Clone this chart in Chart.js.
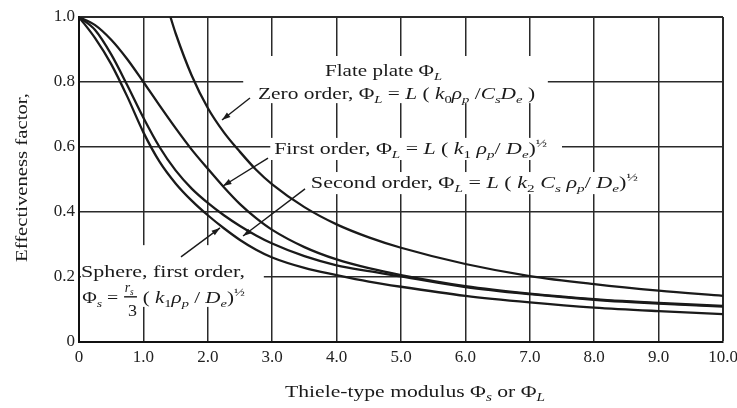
<!DOCTYPE html>
<html>
<head>
<meta charset="utf-8">
<script src="https://cdn.jsdelivr.net/npm/chart.js@4.4.1/dist/chart.umd.min.js"></script>
<style>
  html, body { margin: 0; padding: 0; background: #fff; }
  canvas { display: block; }
</style>
</head>
<body>
<canvas id="effChart" width="737" height="408"></canvas>
<script>
// Thiele modulus values shared by the three lower curves
let phi = [0, 0.25, 0.5, 0.75, 1.0, 1.25, 1.5, 1.75, 2.0, 2.25, 2.5, 2.75, 3.0, 3.5, 4.0, 4.5, 5.0, 6.0, 7.0, 8.0, 9.0, 10.0];
let firstOrder  = [1.0, 0.975, 0.93, 0.87, 0.80, 0.728, 0.658, 0.592, 0.533, 0.476, 0.424, 0.381, 0.345, 0.292, 0.254, 0.227, 0.206, 0.172, 0.149, 0.132, 0.120, 0.111];
let sphereFirst = [1.0, 0.96, 0.885, 0.79, 0.69, 0.60, 0.528, 0.472, 0.428, 0.39, 0.357, 0.328, 0.303, 0.264, 0.236, 0.218, 0.202, 0.169, 0.147, 0.130, 0.118, 0.109];
let secondOrder = [1.0, 0.935, 0.855, 0.755, 0.645, 0.555, 0.488, 0.435, 0.39, 0.35, 0.314, 0.284, 0.26, 0.228, 0.206, 0.186, 0.170, 0.142, 0.122, 0.106, 0.095, 0.086];

// zero order curve only leaves the top edge past phi ~ 1.4
let phiZero   = [1.42, 1.5, 1.75, 2.0, 2.25, 2.5, 2.75, 3.0, 3.5, 4.0, 4.5, 5.0, 6.0, 7.0, 8.0, 9.0, 10.0];
let zeroOrder = [1.0, 0.95, 0.82, 0.72, 0.645, 0.585, 0.53, 0.485, 0.415, 0.362, 0.322, 0.29, 0.24, 0.203, 0.178, 0.158, 0.142];

let xTicks = [0, 1, 2, 3, 4, 5, 6, 7, 8, 9, 10];
let yTicks = [0, 0.2, 0.4, 0.6, 0.8, 1.0];

const SERIF = "'Liberation Serif', 'Times New Roman', serif";
const INK = '#1a1a1a';

function points(xs, ys) {
    return xs.map((x, i) => ({ x: x, y: ys[i] }));
}

function curve(label, xs, ys) {
    return {
        label: label,
        data: points(xs, ys),
        borderColor: INK,
        borderWidth: 2.3,
        pointRadius: 0,
        fill: false,
        cubicInterpolationMode: 'monotone'
    };
}

function tickText(v) {
    return v === 0 ? '0' : v.toFixed(1);
}

// text made of pieces: [text, kind] with kind n / i / sub / isub / sup
function drawRich(ctx, x, y, segs, size, width) {
    let parts = segs.map(([t, k]) => {
        let small = k === 'sub' || k === 'isub' || k === 'sup';
        let fs = small ? Math.round(size * 0.68) : size;
        let italic = k === 'i' || k === 'isub';
        let font = (italic ? 'italic ' : '') + fs + 'px ' + SERIF;
        ctx.font = font;
        let dy = (k === 'sub' || k === 'isub') ? size * 0.25 : (k === 'sup' ? -size * 0.42 : 0);
        return { t: t, font: font, dy: dy, w: ctx.measureText(t).width };
    });
    let total = parts.reduce((s, p) => s + p.w, 0);
    let sx = width ? width / total : 1;
    ctx.save();
    ctx.translate(x, y);
    ctx.scale(sx, 1);
    let cx = 0;
    parts.forEach(p => {
        ctx.font = p.font;
        ctx.fillText(p.t, cx, p.dy);
        cx += p.w;
    });
    ctx.restore();
}

function arrow(ctx, x1, y1, x2, y2) {
    ctx.beginPath();
    ctx.moveTo(x1, y1);
    ctx.lineTo(x2, y2);
    ctx.stroke();
    let a = Math.atan2(y2 - y1, x2 - x1);
    ctx.beginPath();
    ctx.moveTo(x2, y2);
    ctx.lineTo(x2 - 9 * Math.cos(a - 0.32), y2 - 9 * Math.sin(a - 0.32));
    ctx.lineTo(x2 - 9 * Math.cos(a + 0.32), y2 - 9 * Math.sin(a + 0.32));
    ctx.closePath();
    ctx.fill();
}

// white patches that break the grid behind the curve labels
const gridBreaks = {
    id: 'gridBreaks',
    beforeDatasetsDraw(chart) {
        let { ctx, scales: { x, y } } = chart;
        let boxes = [
            [2.55, 0.735, 7.28, 0.88],
            [2.97, 0.56, 7.5, 0.628],
            [3.52, 0.455, 8.71, 0.523],
            [0.03, 0.108, 2.87, 0.298]
        ];
        ctx.save();
        ctx.fillStyle = '#fff';
        boxes.forEach(([x0, y0, x1, y1]) => {
            let px0 = x.getPixelForValue(x0), px1 = x.getPixelForValue(x1);
            let py0 = y.getPixelForValue(y1), py1 = y.getPixelForValue(y0);
            ctx.fillRect(px0, py0, px1 - px0, py1 - py0);
        });
        ctx.restore();
    }
};

// curve labels, arrows and the axis titles
const labels = {
    id: 'labels',
    afterDraw(chart) {
        let { ctx, scales: { x, y } } = chart;
        let px = v => x.getPixelForValue(v);
        let py = v => y.getPixelForValue(v);
        ctx.save();
        ctx.fillStyle = INK;
        ctx.strokeStyle = INK;
        ctx.lineWidth = 1.4;
        ctx.textBaseline = 'alphabetic';

        drawRich(ctx, px(3.82), py(0.818), [['Flate plate Φ', 'n'], ['L', 'isub']], 16, 117);
        drawRich(ctx, px(2.78), py(0.748), [
            ['Zero order, Φ', 'n'], ['L', 'isub'], [' = ', 'n'], ['L', 'i'], [' ( ', 'n'],
            ['k', 'i'], ['0', 'sub'], ['ρ', 'i'], ['p', 'isub'], [' /', 'n'],
            ['C', 'i'], ['s', 'isub'], ['D', 'i'], ['e', 'isub'], [' )', 'n']
        ], 16, 277);
        drawRich(ctx, px(3.03), py(0.578), [
            ['First order, Φ', 'n'], ['L', 'isub'], [' = ', 'n'], ['L', 'i'], [' ( ', 'n'],
            ['k', 'i'], ['1', 'sub'], [' ρ', 'i'], ['p', 'isub'], ['/ ', 'n'],
            ['D', 'i'], ['e', 'isub'], [')', 'n'], ['½', 'sup']
        ], 16, 273);
        drawRich(ctx, px(3.60), py(0.474), [
            ['Second order, Φ', 'n'], ['L', 'isub'], [' = ', 'n'], ['L', 'i'], [' ( ', 'n'],
            ['k', 'i'], ['2', 'sub'], [' C', 'i'], ['s', 'isub'], [' ρ', 'i'], ['p', 'isub'], ['/ ', 'n'],
            ['D', 'i'], ['e', 'isub'], [')', 'n'], ['½', 'sup']
        ], 16, 327);
        drawRich(ctx, px(0.03), py(0.2), [['Sphere, first order,', 'n']], 16, 164);

        // sphere modulus with r_s over 3
        drawRich(ctx, px(0.05), py(0.12), [['Φ', 'n'], ['s', 'isub'], [' =', 'n']], 16, 36);
        drawRich(ctx, px(0.71), py(0.155), [['r', 'i'], ['s', 'isub']], 15, 9);
        ctx.beginPath();
        ctx.moveTo(px(0.70), py(0.139));
        ctx.lineTo(px(0.90), py(0.139));
        ctx.stroke();
        drawRich(ctx, px(0.76), py(0.08), [['3', 'n']], 16, 9);
        drawRich(ctx, px(0.99), py(0.12), [
            ['( ', 'n'], ['k', 'i'], ['1', 'sub'], ['ρ', 'i'], ['p', 'isub'], [' / ', 'n'],
            ['D', 'i'], ['e', 'isub'], [')', 'n'], ['½', 'sup']
        ], 16, 102);

        arrow(ctx, px(2.655), py(0.751), px(2.22), py(0.683));
        arrow(ctx, px(2.935), py(0.566), px(2.236), py(0.48));
        arrow(ctx, px(3.51), py(0.471), px(2.547), py(0.326));
        arrow(ctx, px(1.584), py(0.262), px(2.19), py(0.351));

        // axis titles
        drawRich(ctx, 285, 397, [
            ['Thiele-type modulus Φ', 'n'], ['s', 'isub'], [' or Φ', 'n'], ['L', 'isub']
        ], 17, 260);
        ctx.save();
        ctx.translate(27, 262);
        ctx.rotate(-Math.PI / 2);
        drawRich(ctx, 0, 0, [['Effectiveness factor,', 'n']], 17, 169);
        ctx.restore();

        ctx.restore();
    }
};

new Chart(document.getElementById('effChart'), {
    type: 'line',
    data: {
        datasets: [
            curve('Flat plate, zero order', phiZero, zeroOrder),
            curve('Flat plate, first order', phi, firstOrder),
            curve('Sphere, first order', phi, sphereFirst),
            curve('Flat plate, second order', phi, secondOrder)
        ]
    },
    options: {
        responsive: false,
        animation: false,
        layout: { padding: { top: 17, right: 14, left: 0, bottom: 0 } },
        plugins: {
            legend: { display: false },
            tooltip: { enabled: false }
        },
        scales: {
            x: {
                type: 'linear',
                min: 0,
                max: 10,
                afterBuildTicks: s => { s.ticks = xTicks.map(v => ({ value: v })); },
                afterFit: s => { s.height = 66; s.paddingLeft = 0; s.paddingRight = 0; },
                ticks: {
                    callback: tickText,
                    color: '#222',
                    padding: 5,
                    maxRotation: 0,
                    autoSkip: false,
                    font: { family: SERIF, size: 17 }
                },
                grid: {
                    color: '#2a2a2a',
                    lineWidth: c => (c.tick && c.tick.value === 10) ? 2 : 1.5,
                    drawTicks: false
                },
                border: { color: '#111', width: 2 }
            },
            y: {
                min: 0,
                max: 1,
                afterBuildTicks: s => { s.ticks = yTicks.map(v => ({ value: v })); },
                afterFit: s => { s.width = 79; },
                ticks: {
                    callback: tickText,
                    color: '#222',
                    padding: 4,
                    font: { family: SERIF, size: 17 }
                },
                grid: {
                    color: '#2a2a2a',
                    lineWidth: c => (c.tick && c.tick.value === 1) ? 2 : 1.5,
                    drawTicks: false
                },
                border: { color: '#111', width: 2 }
            }
        }
    },
    plugins: [gridBreaks, labels]
});
</script>
</body>
</html>
